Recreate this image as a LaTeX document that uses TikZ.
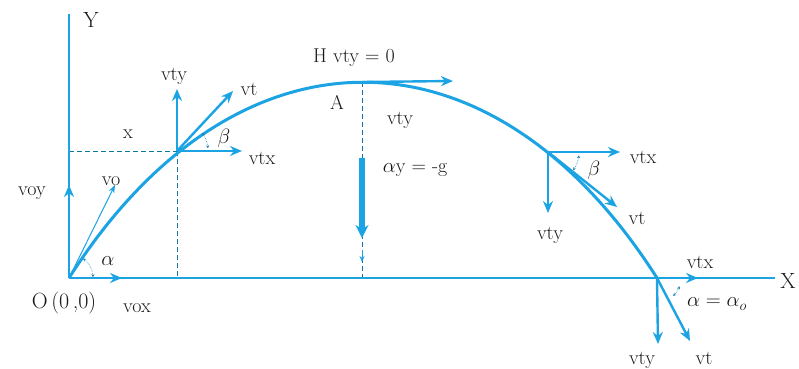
\documentclass[tikz,border=0pt]{standalone}
\usetikzlibrary{arrows.meta}
\definecolor{bl}{RGB}{27,163,227}
\definecolor{tx}{RGB}{25,25,25}
\begin{document}
\begin{tikzpicture}[x=1pt,y=-1pt,
  ax/.style={bl,line width=2.6pt},
  vec/.style={bl,line width=2.4pt,-{Stealth[length=12pt,width=10pt]}},
  thinvec/.style={bl,line width=1pt,-{Stealth[length=8pt,width=6pt]}},
  guide/.style={bl!70!black,line width=0.7pt,dash pattern=on 4.5pt off 3.5pt},
  angarc/.style={bl!80!black,line width=0.6pt,densely dotted,{Stealth[length=3pt,width=3pt]}-{Stealth[length=3pt,width=3pt]}},
  lbl/.style={text=tx,font=\fontsize{20}{22}\selectfont,inner sep=0pt},
  big/.style={text=tx,font=\fontsize{22}{24}\selectfont,inner sep=0pt}]
\useasboundingbox (0,0) rectangle (799,368);
% key points
\coordinate (O) at (69,278);
\coordinate (Ytop) at (69,14);
\coordinate (Xend) at (775,278);
\coordinate (P1) at (177,151);
\coordinate (P1y) at (69,151);
\coordinate (P1x) at (177,278);
\coordinate (A) at (362,82);
\coordinate (Afoot) at (362,278);
\coordinate (P2) at (548,152);
\coordinate (E) at (657,278);
% vector tips
\coordinate (voyT) at (69,185);
\coordinate (voxT) at (122,278);
\coordinate (voT) at (115,185);
\coordinate (v1yT) at (177,89);
\coordinate (v1xT) at (242,151);
\coordinate (v1tT) at (233,91);
\coordinate (vAxT) at (453,81);
\coordinate (gS) at (362,158);
\coordinate (gT) at (362,238);
\coordinate (gs1) at (362,250);
\coordinate (gs2) at (362,262);
\coordinate (v2xT) at (620,152);
\coordinate (v2yT) at (548,213);
\coordinate (v2tT) at (617,207);
\coordinate (vExT) at (698,278);
\coordinate (vEyT) at (658,344);
\coordinate (vEtT) at (690,341);
% guides
\draw[guide] (P1y) -- (P1);
\draw[guide] (P1) -- (P1x);
\draw[guide] (A) -- (Afoot);
\draw[bl,line width=0.6pt,-{Stealth[length=6pt,width=5pt]}] (gs1) -- (gs2);
% axes
\draw[ax] (O) -- (Ytop);
\draw[ax] (O) -- (Xend);
% trajectory
\draw[bl,line width=3pt] (O) .. controls (235,17) and (491,17) .. (E);
% origin vectors
\draw[vec] (O) -- (voyT);
\draw[vec] (O) -- (voxT);
\draw[thinvec] (O) -- (voT);
\draw[angarc] ([shift={(O)}]-2:24) arc[start angle=-2,end angle=-54,radius=24];
% point 1
\draw[vec] (P1) -- (v1yT);
\draw[vec] (P1) -- (v1xT);
\draw[vec] (P1) -- (v1tT);
\draw[angarc] ([shift={(P1)}]-5:31) arc[start angle=-5,end angle=-36,radius=31];
% top
\draw[vec] (A) -- (vAxT);
\draw[bl,line width=6pt,-{Stealth[length=13pt,width=13pt]}] (gS) -- (gT);
% point 2
\draw[vec] (P2) -- (v2xT);
\draw[vec] (P2) -- (v2yT);
\draw[vec] (P2) -- (v2tT);
\draw[angarc] ([shift={(P2)}]6:31) arc[start angle=6,end angle=36,radius=31];
% end point
\draw[vec] (E) -- (vExT);
\draw[vec] (E) -- (vEyT);
\draw[vec] (E) -- (vEtT);
\draw[angarc] ([shift={(E)}]20:24) arc[start angle=20,end angle=48,radius=24];
% labels
\node[big] (lY) at (91,20) {Y};
\node[big] (lX) at (788,281) {X};
\node[big] (lO) at (64,303) {O\,(0\,,0)};
\node[lbl] (lvoy) at (32,193) {voy};
\node[lbl] (lvox) at (137,308) {vox};
\node[lbl] (lvo) at (111,181) {vo};
\node[lbl] (lal) at (108,261) {$\alpha$};
\node[lbl] (lx) at (128,134) {x};
\node[lbl] (l1y) at (174,76) {vty};
\node[lbl] (l1t) at (249,89) {vt};
\node[lbl] (l1x) at (262,158) {vtx};
\node[lbl] (l1b) at (224,138) {$\beta$};
\node[lbl] (lH) at (354,58) {H vty = 0};
\node[lbl] (lA) at (337,102) {A};
\node[lbl] (lAy) at (400,120) {vty};
\node[lbl] (lg) at (415,170) {$\alpha$y = -g};
\node[lbl] (l2x) at (643,157) {vtx};
\node[lbl] (l2b) at (594,170) {$\beta$};
\node[lbl] (l2y) at (550,235) {vty};
\node[lbl] (l2t) at (637,218) {vt};
\node[lbl] (lEx) at (700,262) {vtx};
\node[lbl] (lEa) at (717,304) {$\alpha=\alpha_{o}$};
\node[lbl] (lEy) at (642,360) {vty};
\node[lbl] (lEt) at (704,358) {vt};
\end{tikzpicture}
\end{document}
